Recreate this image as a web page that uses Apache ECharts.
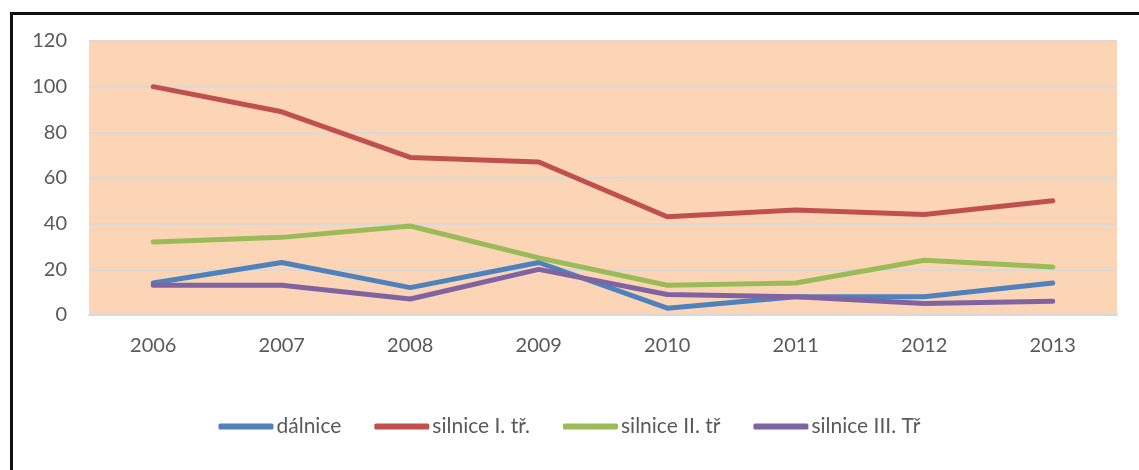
<!DOCTYPE html>
<html>
<head>
<meta charset="utf-8">
<script src="https://cdn.jsdelivr.net/npm/echarts@6/dist/echarts.min.js"></script>
<style>
  html, body { margin: 0; padding: 0; background: #fff; }
  #chart { width: 1139px; height: 470px; }
  .frame {
    position: absolute; left: 10px; top: 12px; right: 0; bottom: 0;
    border-top: 3px solid #111; border-left: 3px solid #111;
    pointer-events: none;
  }
</style>
</head>
<body>
<div id="chart"></div>
<div class="frame"></div>
<script>
const years = ["2006", "2007", "2008", "2009", "2010", "2011", "2012", "2013"];
const dalnice = [14, 23, 12, 23, 3, 8, 8, 14];
const silniceI = [100, 89, 69, 67, 43, 46, 44, 50];
const silniceII = [32, 34, 39, 25, 13, 14, 24, 21];
const silniceIII = [13, 13, 7, 20, 9, 8, 5, 6];

const seriesNames = ["dálnice", "silnice I. tř.", "silnice II. tř", "silnice III. Tř"];
const seriesData = [dalnice, silniceI, silniceII, silniceIII];
const colors = ["#4F81BD", "#C0504D", "#9BBB59", "#8064A2"];

const chart = echarts.init(document.getElementById("chart"));
const font = "Lato, 'Open Sans', sans-serif";

chart.setOption({
  animation: false,
  color: colors,
  textStyle: { fontFamily: font },
  grid: {
    left: 89, right: 22, top: 41, bottom: 155,
    show: true, backgroundColor: "#FBD5B5", borderWidth: 0
  },
  legend: {
    left: "center", top: 411,
    itemWidth: 55, itemHeight: 6, itemGap: 33,
    icon: "roundRect",
    textStyle: { fontSize: 21, color: "#595959", fontFamily: font, padding: [0, 0, 0, -2] },
    data: seriesNames
  },
  xAxis: {
    type: "category",
    data: years,
    boundaryGap: true,
    axisLine: { lineStyle: { color: "#D9D9D9", width: 2 } },
    axisTick: { show: false },
    axisLabel: { fontSize: 20, color: "#595959", margin: 21 }
  },
  yAxis: {
    type: "value",
    min: 0, max: 120, interval: 20,
    axisLine: { show: false },
    axisTick: { show: false },
    axisLabel: { fontSize: 20, color: "#595959", margin: 22 },
    splitLine: { lineStyle: { color: "#D9D9D9", width: 2 } }
  },
  series: seriesNames.map((name, i) => ({
    name: name,
    type: "line",
    data: seriesData[i],
    symbol: "none",
    lineStyle: { width: 5, cap: "round", join: "round" }
  }))
});
</script>
</body>
</html>
